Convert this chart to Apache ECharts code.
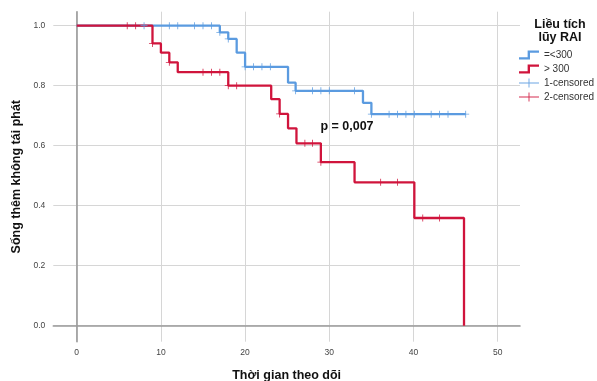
<!DOCTYPE html>
<html><head><meta charset="utf-8">
<script src="https://cdn.jsdelivr.net/npm/echarts@6/dist/echarts.min.js"></script>
<style>html,body{margin:0;padding:0;background:#fff}#c{width:597px;height:381px}</style>
</head><body><div id="c"></div>
<script>
const xTicks = [0, 10, 20, 30, 40, 50];
const yTicks = [0, 0.2, 0.4, 0.6, 0.8, 1.0];
const legendNames = ['=<300', '> 300', '1-censored', '2-censored'];
const lowTimes = [0, 17, 18, 19, 20, 25.1, 26, 34, 35, 46.2];
const lowSurv  = [1, 0.978, 0.956, 0.91, 0.863, 0.81, 0.783, 0.743, 0.705, 0.705];
const highTimes = [0, 9, 10, 11, 12, 18, 23.1, 24.1, 25.1, 26.1, 29, 33, 40.1, 46];
const highSurv  = [1, 0.941, 0.91, 0.878, 0.845, 0.80, 0.755, 0.706, 0.658, 0.608, 0.545, 0.478, 0.359, 0];
const lowCensT = [8, 11, 12, 14, 15, 16, 17, 18, 20, 21, 22, 23, 26, 28, 29, 30, 33, 35, 37.1, 38.1, 39.1, 40.1, 42.1, 43.1, 44.1, 46.2];
const lowCensS = [1, 1, 1, 1, 1, 1, 0.978, 0.956, 0.863, 0.863, 0.863, 0.863, 0.783, 0.783, 0.783, 0.783, 0.783, 0.705, 0.705, 0.705, 0.705, 0.705, 0.705, 0.705, 0.705, 0.705];
const highCensT = [6, 7, 9, 11, 15, 16, 17, 18, 19, 24.1, 27.1, 28, 29, 36.1, 38.1, 41.1, 43.1];
const highCensS = [1, 1, 0.941, 0.878, 0.845, 0.845, 0.845, 0.80, 0.80, 0.706, 0.608, 0.608, 0.545, 0.478, 0.478, 0.359, 0.359];
const pText = 'p = 0,007';
const pAt = [32.1, 0.663];

const FONT = 'Arial, "Liberation Sans", sans-serif';
const BLUE = '#5b9be0';
const RED = '#d0143c';
const zip = (a, b) => a.map((v, i) => [v, b[i]]);
const stepIcon = 'path://M0,7.5 L9.5,7.5 L9.5,0 L22,0 L22,2.6 L12.1,2.6 L12.1,10.1 L0,10.1 Z';
const plusIcon = 'path://M0,4.5 L22,4.5 L22,5.5 L0,5.5 Z M10.5,0 L11.5,0 L11.5,10 L10.5,10 Z';
const plusSym = 'path://M0,4.45 L10,4.45 L10,5.55 L0,5.55 Z M4.4,0 L5.6,0 L5.6,10 L4.4,10 Z';

const chart = echarts.init(document.getElementById('c'), null, {renderer: 'canvas'});
chart.setOption({
  animation: false,
  backgroundColor: '#fff',
  textStyle: {fontFamily: FONT},
  title: {
    text: 'Liều tích\nlũy RAI',
    left: 560, top: 18, textAlign: 'center',
    padding: 0,
    textStyle: {fontFamily: FONT, fontSize: 12.5, fontWeight: 'bold', color: '#111', lineHeight: 13}
  },
  legend: {
    orient: 'vertical', left: 519, top: 49, padding: 0,
    itemWidth: 20, itemHeight: 10, itemGap: 2,
    textStyle: {fontFamily: FONT, fontSize: 10, color: '#333', lineHeight: 12},
    data: [
      {name: legendNames[0], icon: stepIcon},
      {name: legendNames[1], icon: stepIcon},
      {name: legendNames[2], icon: plusIcon},
      {name: legendNames[3], icon: plusIcon}
    ]
  },
  grid: {left: 53.3, right: 77, top: 11.7, bottom: 39.3, containLabel: false, outerBoundsMode: 'none'},
  xAxis: {
    type: 'value', min: -2.78, max: 52.65,
    name: 'Thời gian theo dõi', nameLocation: 'middle', nameGap: 27,
    nameTextStyle: {fontFamily: FONT, fontSize: 12.5, fontWeight: 'bold', color: '#111'},
    axisLine: {show: true, lineStyle: {color: '#9a9a9a', width: 1.6}},
    axisTick: {show: false, customValues: xTicks},
    axisLabel: {customValues: xTicks, fontSize: 8.5, color: '#444', margin: 6, fontFamily: FONT},
    splitLine: {show: true, lineStyle: {color: '#d6d6d6', width: 1}}
  },
  yAxis: {
    type: 'value', min: -0.0533, max: 1.0467,
    name: 'Sống thêm không tái phát', nameLocation: 'middle', nameGap: 22,
    nameTextStyle: {fontFamily: FONT, fontSize: 12.5, fontWeight: 'bold', color: '#111'},
    axisLine: {show: true, lineStyle: {color: '#9a9a9a', width: 1.6}},
    axisTick: {show: false, customValues: yTicks},
    axisLabel: {customValues: yTicks, fontSize: 8.5, color: '#444', margin: 8, fontFamily: FONT,
      formatter: v => v.toFixed(1)},
    splitLine: {show: true, lineStyle: {color: '#d6d6d6', width: 1}}
  },
  series: [
    {
      name: legendNames[0], type: 'line', step: 'end', showSymbol: false, symbol: 'none',
      data: zip(lowTimes, lowSurv), itemStyle: {color: BLUE},
      lineStyle: {color: BLUE, width: 2.3}, z: 2,
      markPoint: {
        symbolSize: 0, silent: true,
        data: [{coord: pAt, value: pText}],
        label: {show: true, position: 'inside', formatter: pText, color: '#111',
          fontFamily: FONT, fontSize: 12.5, fontWeight: 'bold'}
      }
    },
    {
      name: legendNames[1], type: 'line', step: 'end', showSymbol: false, symbol: 'none',
      data: zip(highTimes, highSurv), itemStyle: {color: RED},
      lineStyle: {color: RED, width: 2.3}, z: 3
    },
    {
      name: legendNames[2], type: 'scatter', symbol: plusSym, symbolSize: 7,
      data: zip(lowCensT, lowCensS), itemStyle: {color: BLUE, opacity: 0.9}, z: 4
    },
    {
      name: legendNames[3], type: 'scatter', symbol: plusSym, symbolSize: 7,
      data: zip(highCensT, highCensS), itemStyle: {color: RED, opacity: 0.9}, z: 5
    }
  ]
});
</script></body></html>
